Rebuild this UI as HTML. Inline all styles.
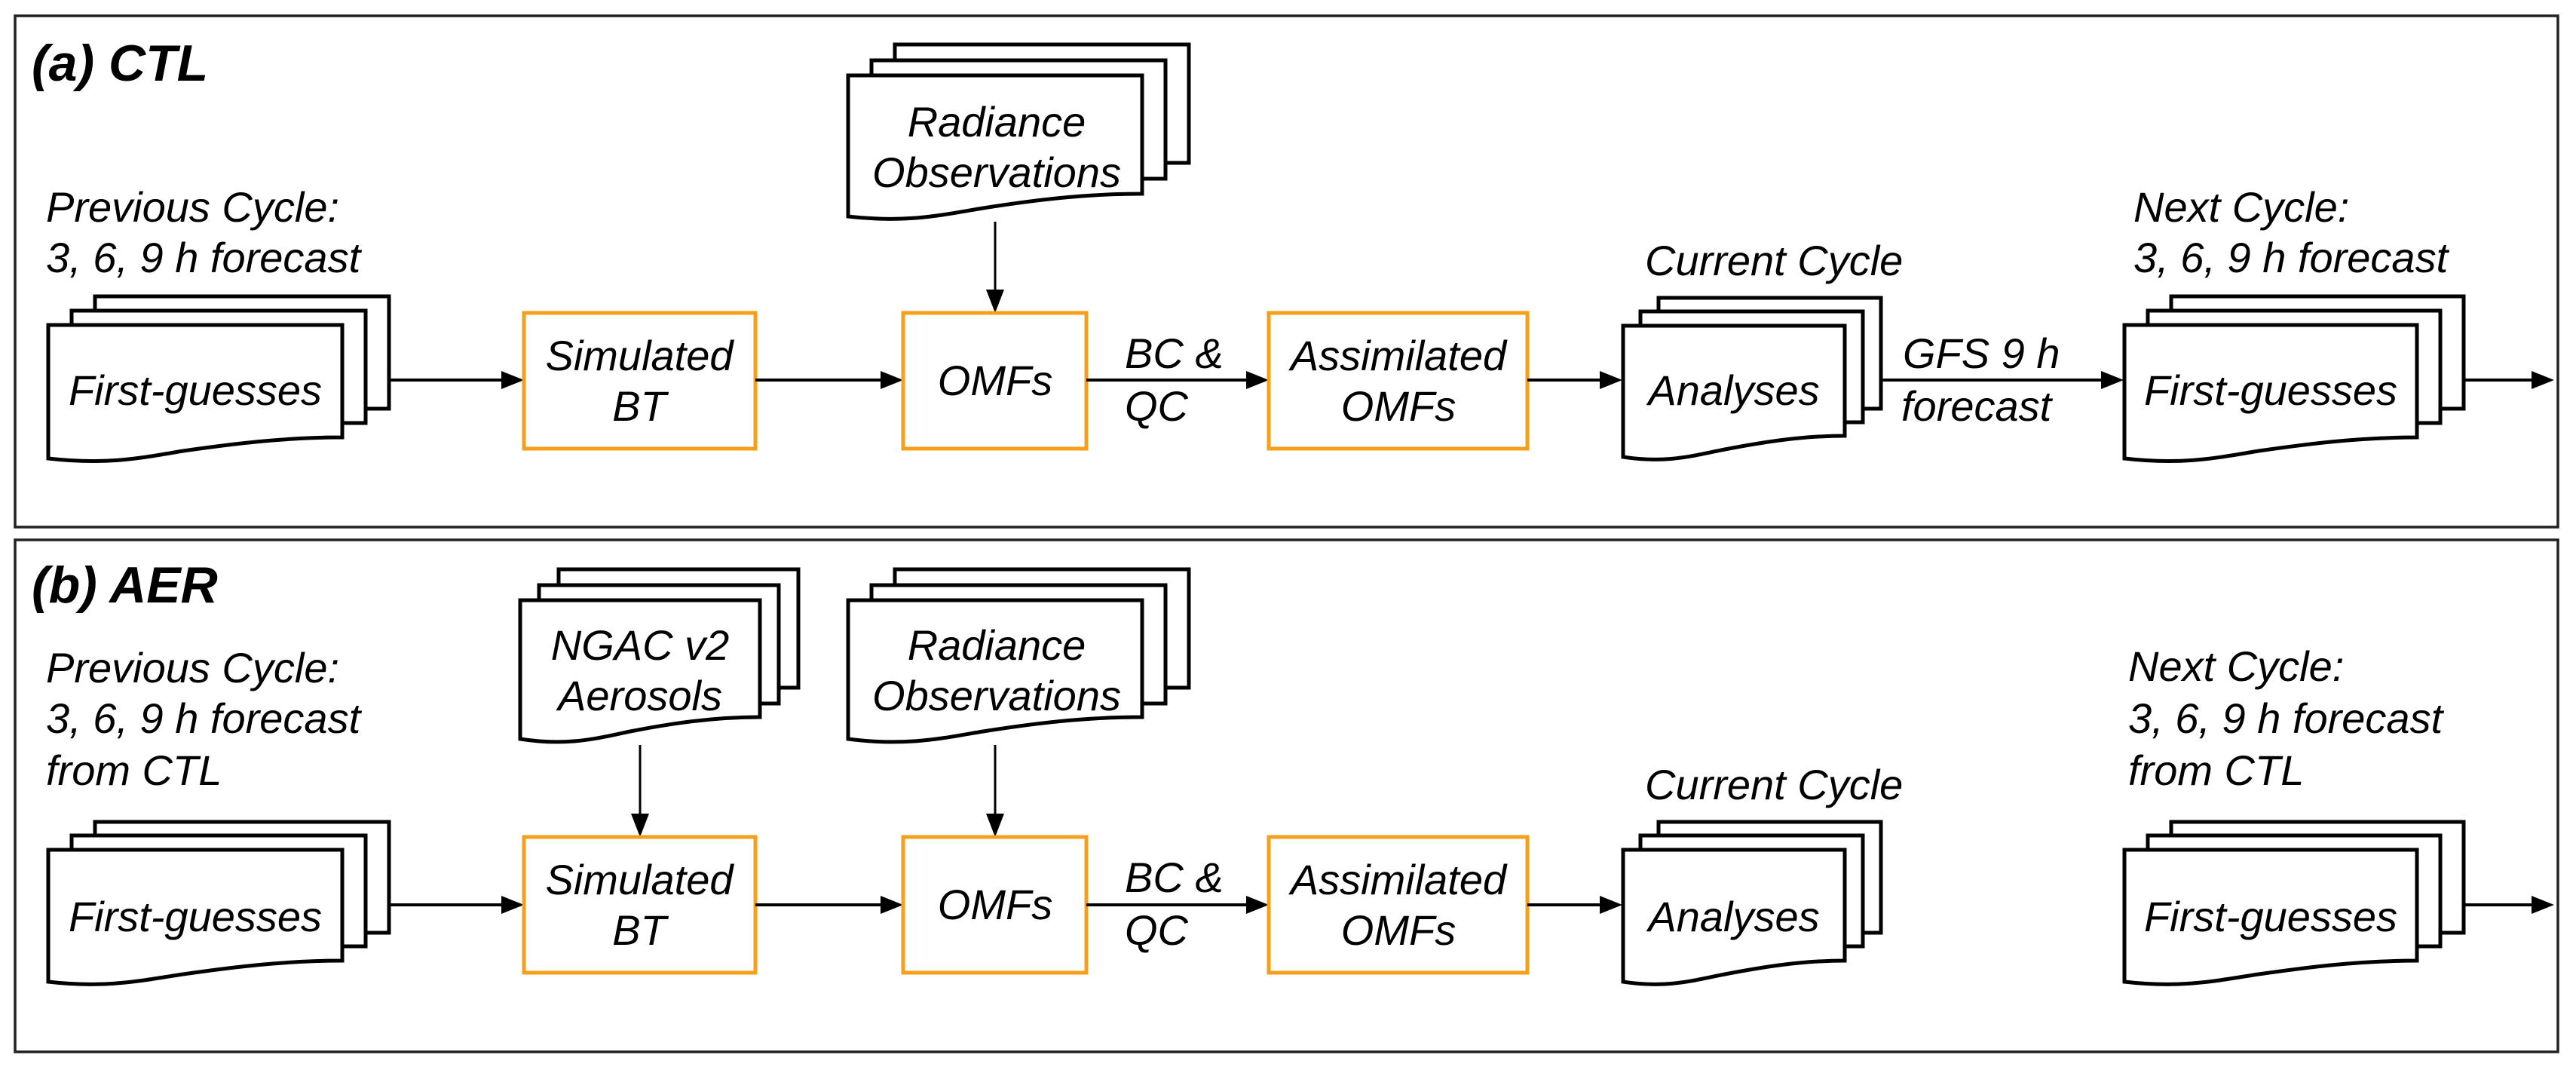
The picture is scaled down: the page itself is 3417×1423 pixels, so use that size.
<!DOCTYPE html>
<html><head><meta charset="utf-8"><style>
html,body{margin:0;padding:0;background:#fff;}
svg{display:block;}
text{font-family:"Liberation Sans",Arial,sans-serif;font-style:italic;font-size:56px;fill:#000;}
.t{font-weight:bold;font-size:68px;}
.c{text-anchor:middle;}
.d{fill:#fff;stroke:#000;stroke-width:5;}
.b{fill:#fff;stroke:#F5A01A;stroke-width:5;}
.l{stroke:#000;stroke-width:4;fill:none;}
.v{stroke:#000;stroke-width:3;fill:none;}
</style></head><body>
<svg width="3417" height="1423" viewBox="0 0 3417 1423" xmlns="http://www.w3.org/2000/svg">
<rect x="0" y="0" width="3417" height="1423" fill="#fff"/>
<rect x="20" y="21" width="3373" height="678" fill="none" stroke="#222" stroke-width="3.5"/>
<rect x="20" y="716" width="3373" height="679" fill="none" stroke="#222" stroke-width="3.5"/>

<!-- ===== Panel a ===== -->
<text class="t" x="42" y="107">(a) CTL</text>
<text x="61" y="294">Previous Cycle:</text>
<text x="61" y="361">3, 6, 9 h forecast</text>

<rect class="d" x="126" y="393" width="390" height="149"/>
<rect class="d" x="95" y="412" width="390" height="149"/>
<path class="d" d="M64,431 H454 V580 C376,580 306,589 243,598 C189,607 142,617 64,608 Z"/>
<text class="c" x="259" y="537">First-guesses</text>

<line class="l" x1="516" y1="504" x2="668" y2="504"/>
<polygon points="695,504 665,492 665,516"/>
<rect class="b" x="695" y="415" width="307" height="180"/>
<text class="c" x="848" y="491">Simulated</text>
<text class="c" x="848" y="558">BT</text>

<line class="l" x1="1002" y1="504" x2="1171" y2="504"/>
<polygon points="1198,504 1168,492 1168,516"/>

<rect class="d" x="1187" y="59" width="390" height="157"/>
<rect class="d" x="1156" y="80" width="390" height="157"/>
<path class="d" d="M1125,100 H1515 V257 C1437,257 1367,266 1304,276 C1250,285 1203,296 1125,287 Z"/>
<text class="c" x="1322" y="181">Radiance</text>
<text class="c" x="1322" y="248">Observations</text>
<line class="v" x1="1320" y1="294" x2="1320" y2="388"/>
<polygon points="1320,415 1308,384 1332,384"/>

<rect class="b" x="1198" y="415" width="243" height="180"/>
<text class="c" x="1320" y="524">OMFs</text>

<text x="1492" y="488">BC &amp;</text>
<text x="1492" y="558">QC</text>
<line class="l" x1="1441" y1="504" x2="1656" y2="504"/>
<polygon points="1683,504 1653,492 1653,516"/>

<rect class="b" x="1683" y="415" width="343" height="180"/>
<text class="c" x="1855" y="491">Assimilated</text>
<text class="c" x="1855" y="558">OMFs</text>

<line class="l" x1="2026" y1="504" x2="2125" y2="504"/>
<polygon points="2152,504 2122,492 2122,516"/>

<text x="2182" y="365">Current Cycle</text>
<rect class="d" x="2200" y="395" width="295" height="147"/>
<rect class="d" x="2176" y="413" width="295" height="147"/>
<path class="d" d="M2153,432 H2447 V578 C2388,578 2335,587 2288,596 C2247,604 2212,615 2153,606 Z"/>
<text class="c" x="2300" y="537">Analyses</text>

<line class="l" x1="2495" y1="504" x2="2790" y2="504"/>
<polygon points="2817,504 2787,492 2787,516"/>
<text x="2524" y="488">GFS 9 h</text>
<text x="2522" y="558">forecast</text>

<text x="2830" y="294">Next Cycle:</text>
<text x="2830" y="361">3, 6, 9 h forecast</text>
<rect class="d" x="2880" y="393" width="388" height="149"/>
<rect class="d" x="2849" y="412" width="388" height="149"/>
<path class="d" d="M2818,431 H3206 V580 C3128,580 3059,589 2996,598 C2942,607 2896,617 2818,608 Z"/>
<text class="c" x="3012" y="537">First-guesses</text>
<line class="l" x1="3268" y1="504" x2="3360" y2="504"/>
<polygon points="3388,504 3358,492 3358,516"/>

<!-- ===== Panel b ===== -->
<text class="t" x="42" y="799">(b) AER</text>
<text x="61" y="905">Previous Cycle:</text>
<text x="61" y="972">3, 6, 9 h forecast</text>
<text x="61" y="1041">from CTL</text>

<rect class="d" x="126" y="1090" width="390" height="147"/>
<rect class="d" x="95" y="1108" width="390" height="147"/>
<path class="d" d="M64,1127 H454 V1274 C376,1274 306,1283 243,1292 C189,1300 142,1311 64,1302 Z"/>
<text class="c" x="259" y="1235">First-guesses</text>

<line class="l" x1="516" y1="1200" x2="668" y2="1200"/>
<polygon points="695,1200 665,1188 665,1212"/>

<rect class="d" x="741" y="755" width="318" height="157"/>
<rect class="d" x="715" y="776" width="318" height="157"/>
<path class="d" d="M690,796 H1008 V951 C944,951 887,960 836,970 C792,979 754,990 690,980 Z"/>
<text class="c" x="849" y="875">NGAC v2</text>
<text class="c" x="849" y="942">Aerosols</text>
<line class="v" x1="849" y1="988" x2="849" y2="1083"/>
<polygon points="849,1110 837,1079 861,1079"/>

<rect class="b" x="695" y="1110" width="307" height="180"/>
<text class="c" x="848" y="1186">Simulated</text>
<text class="c" x="848" y="1253">BT</text>

<line class="l" x1="1002" y1="1200" x2="1171" y2="1200"/>
<polygon points="1198,1200 1168,1188 1168,1212"/>

<rect class="d" x="1187" y="755" width="390" height="157"/>
<rect class="d" x="1156" y="776" width="390" height="157"/>
<path class="d" d="M1125,796 H1515 V951 C1437,951 1367,960 1304,970 C1250,979 1203,990 1125,980 Z"/>
<text class="c" x="1322" y="875">Radiance</text>
<text class="c" x="1322" y="942">Observations</text>
<line class="v" x1="1320" y1="988" x2="1320" y2="1083"/>
<polygon points="1320,1110 1308,1079 1332,1079"/>

<rect class="b" x="1198" y="1110" width="243" height="180"/>
<text class="c" x="1320" y="1219">OMFs</text>

<text x="1492" y="1183">BC &amp;</text>
<text x="1492" y="1253">QC</text>
<line class="l" x1="1441" y1="1200" x2="1656" y2="1200"/>
<polygon points="1683,1200 1653,1188 1653,1212"/>

<rect class="b" x="1683" y="1110" width="343" height="180"/>
<text class="c" x="1855" y="1186">Assimilated</text>
<text class="c" x="1855" y="1253">OMFs</text>

<line class="l" x1="2026" y1="1200" x2="2125" y2="1200"/>
<polygon points="2152,1200 2122,1188 2122,1212"/>

<text x="2182" y="1060">Current Cycle</text>
<rect class="d" x="2200" y="1090" width="295" height="147"/>
<rect class="d" x="2176" y="1108" width="295" height="147"/>
<path class="d" d="M2153,1127 H2447 V1274 C2388,1274 2335,1283 2288,1292 C2247,1300 2212,1311 2153,1302 Z"/>
<text class="c" x="2300" y="1235">Analyses</text>

<text x="2823" y="903">Next Cycle:</text>
<text x="2823" y="972">3, 6, 9 h forecast</text>
<text x="2823" y="1041">from CTL</text>
<rect class="d" x="2880" y="1090" width="388" height="147"/>
<rect class="d" x="2849" y="1108" width="388" height="147"/>
<path class="d" d="M2818,1127 H3206 V1274 C3128,1274 3059,1283 2996,1292 C2942,1300 2896,1311 2818,1302 Z"/>
<text class="c" x="3012" y="1235">First-guesses</text>
<line class="l" x1="3268" y1="1200" x2="3360" y2="1200"/>
<polygon points="3388,1200 3358,1188 3358,1212"/>
</svg>
</body></html>
